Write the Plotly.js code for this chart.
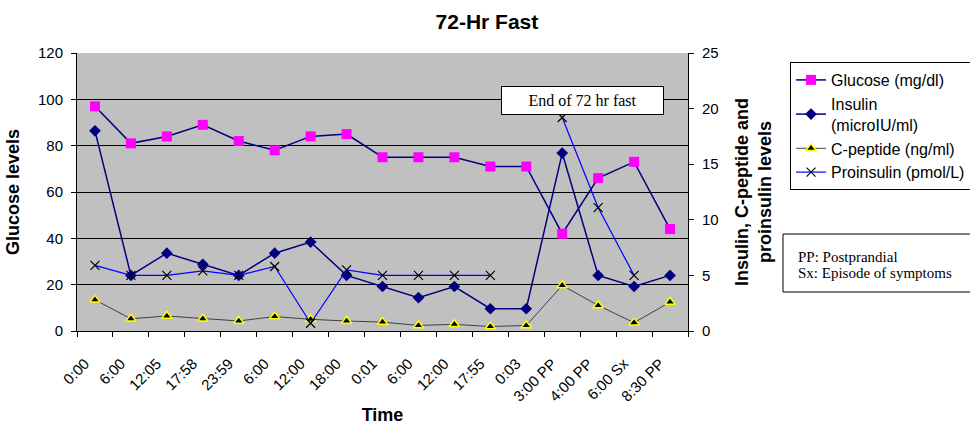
<!DOCTYPE html>
<html>
<head>
<meta charset="utf-8">
<script src="https://cdn.plot.ly/plotly-3.0.1.min.js"></script>
<style>html,body{margin:0;padding:0;background:#fff;}#chart{width:970px;height:425px;}</style>
</head>
<body>
<div id="chart"></div>
<script>
var timeLabels = ["0:00","6:00","12:05","17:58","23:59","6:00","12:00","18:00","0:01","6:00","12:00","17:55","0:03","3:00 PP","4:00 PP","6:00 Sx","8:30 PP"];
var glucose = [97,81,84,89,82,78,84,85,75,75,75,71,71,42,66,73,44];
var insulin = [18,5,7,6,5,7,8,5,4,3,4,2,2,16,5,4,5];
var cpeptide = [2.8,1.1,1.35,1.1,0.9,1.3,1.05,0.9,0.8,0.5,0.6,0.4,0.5,4.1,2.3,0.75,2.6];
var proinsulin = [5.9,5.0,5.0,5.4,5.0,5.8,0.7,5.5,5.0,5.0,5.0,5.0,null,19.2,11.1,5.0,null];

var idx = timeLabels.map(function(_, i){ return i; });
var FONT = "Liberation Sans, Arial, sans-serif";
var SERIF = "Liberation Serif, Times New Roman, serif";

var traces = [
  {x: idx, y: glucose, name: "Glucose (mg/dl)", type: "scatter", mode: "lines+markers",
   line: {color: "#000080", width: 1.5},
   marker: {symbol: "square", color: "#FF00FF", size: 10}, legendgroup: "g1"},
  {x: idx, y: insulin, name: "Insulin<br>(microIU/ml)", type: "scatter", mode: "lines+markers", yaxis: "y2",
   line: {color: "#000080", width: 1.5},
   marker: {symbol: "diamond", color: "#000080", size: 9}, legendgroup: "g2"},
  {x: idx, y: cpeptide, name: "C-peptide (ng/ml)", type: "scatter", mode: "lines+markers", yaxis: "y2",
   line: {color: "#404040", width: 1},
   marker: {symbol: "triangle-up", color: "#000000", size: 9, line: {color: "#FFFF00", width: 1.5}}, legendgroup: "g3"},
  {x: idx, y: proinsulin, name: "Proinsulin (pmol/L)", type: "scatter", mode: "lines+markers", yaxis: "y2",
   connectgaps: false,
   line: {color: "#0000FF", width: 1.2},
   marker: {symbol: "x-thin", color: "#000000", size: 9, line: {color: "#000000", width: 1.2}}, legendgroup: "g4"}
];

var layout = {
  width: 970, height: 425,
  margin: {l: 77, r: 282, t: 53, b: 94, autoexpand: false},
  paper_bgcolor: "#FFFFFF",
  plot_bgcolor: "#C0C0C0",
  font: {family: FONT, size: 15, color: "#000"},
  title: {text: "<b>72-Hr Fast</b>", font: {family: FONT, size: 21, color: "#000"},
          x: 0.502, xref: "container", xanchor: "center", y: 0.949, yref: "container", yanchor: "middle"},
  showlegend: true,
  legend: {x: 1.167, xanchor: "left", y: 0.9676, yanchor: "top",
           bgcolor: "#FFFFFF", bordercolor: "#000", borderwidth: 1,
           font: {family: FONT, size: 16, color: "#000"}, tracegroupgap: 4, traceorder: "normal"},
  xaxis: {
    range: [-0.5, 16.5], tickmode: "array", tickvals: idx, ticktext: timeLabels,
    tickangle: -45, ticks: "", showgrid: false, zeroline: false,
    showline: true, linecolor: "#000", linewidth: 1, mirror: false,
    ticklabelstandoff: 17, ticklabelshift: -10,
    tickfont: {family: FONT, size: 15, color: "#000"},
    minor: {tickmode: "linear", tick0: -0.5, dtick: 1, ticks: "outside", ticklen: 5, tickcolor: "#000", tickwidth: 1, showgrid: false},
    title: {text: "<b>Time</b>", font: {family: FONT, size: 18, color: "#000"}, standoff: 8}
  },
  yaxis: {
    range: [0, 120], dtick: 20, ticks: "outside", ticklen: 5, tickcolor: "#000",
    showgrid: true, gridcolor: "#000", gridwidth: 1, zeroline: false,
    showline: true, linecolor: "#000", linewidth: 1,
    ticklabelstandoff: 5,
    tickfont: {family: FONT, size: 15, color: "#000"},
    title: {text: "<b>Glucose levels</b>", font: {family: FONT, size: 18, color: "#000"}, standoff: 13}
  },
  yaxis2: {
    range: [0, 25], dtick: 5, overlaying: "y", side: "right",
    ticks: "outside", ticklen: 5, tickcolor: "#000",
    showgrid: false, zeroline: false, showline: true, linecolor: "#000", linewidth: 1,
    ticklabelstandoff: 5,
    tickfont: {family: FONT, size: 15, color: "#000"},
    title: {text: "<b>Insulin, C-peptide and<br>proinsulin levels</b>", font: {family: FONT, size: 18, color: "#000"}, standoff: 17}
  },
  shapes: [
    {type: "rect", xref: "paper", yref: "paper", x0: 1.1555, x1: 1.4697, y0: 0.1403, y1: 0.3489,
     line: {color: "#000", width: 1}, fillcolor: "#FFFFFF", layer: "above"}
  ],
  annotations: [
    {text: "End of 72 hr fast", xref: "paper", yref: "paper", x: 0.8273, y: 0.829,
     xanchor: "center", yanchor: "middle", showarrow: false,
     font: {family: SERIF, size: 16, color: "#000"},
     bgcolor: "#FFFFFF", bordercolor: "#000", borderwidth: 1, borderpad: 3, width: 155, height: 21},
    {text: "PP: Postprandial", xref: "paper", yref: "paper", x: 1.1768, y: 0.2662,
     xanchor: "left", yanchor: "middle", align: "left", showarrow: false,
     font: {family: SERIF, size: 15, color: "#000"}},
    {text: "Sx: Episode of symptoms", xref: "paper", yref: "paper", x: 1.1768, y: 0.2086,
     xanchor: "left", yanchor: "middle", align: "left", showarrow: false,
     font: {family: SERIF, size: 15, color: "#000"}}
  ]
};

Plotly.newPlot("chart", traces, layout, {displayModeBar: false, staticPlot: true});
</script>
</body>
</html>
